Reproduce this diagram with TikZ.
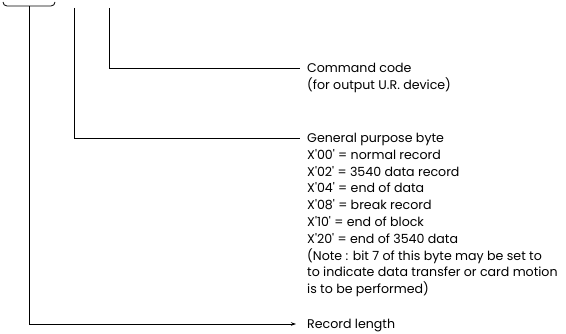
\documentclass[tikz,border=0pt]{standalone}
\usepackage{fontspec}
\newfontfamily\geofont{Poppins}
\usetikzlibrary{arrows.meta}
\tikzset{
  leader/.style={line width=0.8pt},
  label/.style={anchor=base west, inner sep=0pt, inner xsep=7pt, font=\geofont\fontsize{12.6}{16.8}\selectfont},
}
\newcommand{\lines}[1]{\parbox[t]{270pt}{\raggedright #1}}
\begin{document}
\begin{tikzpicture}[x=1pt,y=-1pt]
\useasboundingbox (0,0) rectangle (566,334);
% brace
\draw[leader] (3,2) to[out=-90,in=180] (7,6) -- (51,6) to[out=0,in=-90] (55,2);
\coordinate (b0) at (29,6);
\coordinate (t1) at (74,8);
\coordinate (t2) at (109,8);
\node[label] (cmd) at (300,72.5) {\lines{Command code\\(for output U.R. device)}};
\node[label] (gen) at (300,142.5) {\lines{General purpose byte\\
X'00' = normal record\\
X'02' = 3540 data record\\
X'04' = end of data\\
X'08' = break record\\
X'10' = end of block\\
X'20' = end of 3540 data\\
(Note : bit 7 of this byte may be set to\\
to indicate data transfer or card motion\\
is to be performed)}};
\node[label] (rec) at (300,328.3) {\lines{Record length}};
\draw[leader] (t2) |- ([yshift=4.5pt]cmd.base west);
\draw[leader] (t1) |- ([yshift=4.5pt]gen.base west);
\draw[leader,-{Stealth[length=5pt,width=3.5pt]}] (b0) |- ([xshift=-4pt,yshift=4.3pt]rec.base west);
\end{tikzpicture}
\end{document}
